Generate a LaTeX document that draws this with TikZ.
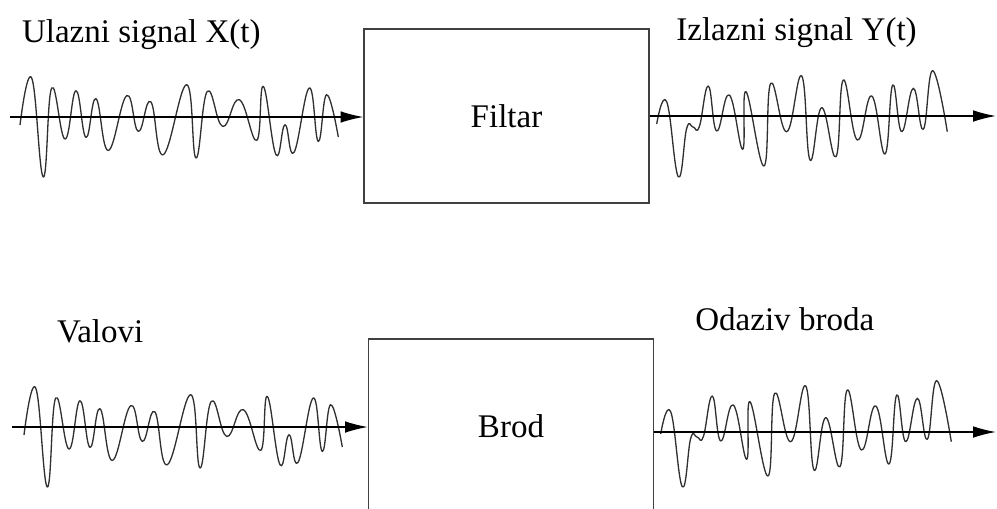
\documentclass[tikz,border=0pt]{standalone}
\usepackage{fontspec}
\setmainfont{Liberation Serif}
\usetikzlibrary{arrows.meta}
\definecolor{boxline}{HTML}{404040}
\definecolor{waveline}{HTML}{303030}

% input wave, drawn round its own axis (y = 0)
\newcommand{\inwave}[1]{\draw[sig, #1] plot[smooth, tension=0.75] coordinates {
  (20,8) (31.7,-39) (43.3,60) (51.7,-29) (65,22) (76,-26.3) (86,20.4)
  (96,-18.3) (108.3,33.4) (126.7,-21.3) (138.3,14.4) (150.7,-15.3)
  (163.3,37.7) (186.7,-32.3) (196,41) (207.3,-25.6) (222.7,9.4)
  (239.3,-17.3) (256.7,23.4) (263.3,-30.6) (276,37.7) (285,7.7)
  (294,35.4) (309.3,-29) (318.3,24.4) (326.7,-22.3) (338.3,20)};}
% output wave
\newcommand{\outwave}[1]{\draw[sig, #1] plot[smooth, tension=0.75] coordinates {
  (656.7,8) (666.7,-14.3) (678.3,60.7) (686.7,12.3) (693,11) (699.3,10.7)
  (708.3,-30) (716.7,15) (729.3,-21) (742.7,33.3) (746,-24.3) (764,50)
  (770.7,-32.7) (786.7,15.7) (801.7,-40) (810,44) (821.7,-8.3) (836,40.7)
  (843.3,-36) (857.3,24) (871.7,-20) (885,38) (892.7,-31) (901.7,15.7)
  (913.3,-27.7) (923.3,13.3) (932.7,-45.3) (947.3,15.7)};}

\begin{document}
\begin{tikzpicture}[x=0.02cm, y=-0.02cm,
    sysbox/.style={draw=boxline, line width=0.7pt, fill=white,
      minimum width=5.7cm, minimum height=3.48cm, font=\fontsize{18.8}{22}\selectfont},
    sig/.style={draw=waveline, line width=0.75pt, line join=round},
    axis/.style={line width=0.8pt, -{Latex[length=13pt, width=6.6pt]}},
    lbl/.style={anchor=base west, inner sep=0pt, font=\fontsize{18.8}{22}\selectfont}]
  \clip (0,0) rectangle (997,508);

  % filter row
  \node[sysbox] (filtar) at (506.5,116) {Filtar};
  \coordinate (xstart) at (10,117);
  \coordinate (yend) at (996,116);
  \inwave{shift={(0,117)}}
  \outwave{shift={(0,116)}}
  \draw[axis] (xstart) -- (filtar.west |- xstart);
  \draw[axis] (filtar.east |- yend) -- (yend);
  \node[lbl] (xlbl) at (21.7,42.7) {Ulazni signal X(t)};
  \node[lbl] (ylbl) at (676,40) {Izlazni signal Y(t)};

  % ship row
  \node[sysbox] (brod) at (511,426) {Brod};
  \coordinate (valstart) at (12,427);
  \coordinate (odzend) at (996,432);
  \inwave{shift={(4,427)}}
  \outwave{shift={(4,426)}}
  \draw[axis] (valstart) -- (brod.west |- valstart);
  \draw[axis] (brod.east |- odzend) -- (odzend);
  \node[lbl] (vallbl) at (56.7,342.7) {Valovi};
  \node[lbl] (odzlbl) at (695,330) {Odaziv broda};
\end{tikzpicture}
\end{document}
